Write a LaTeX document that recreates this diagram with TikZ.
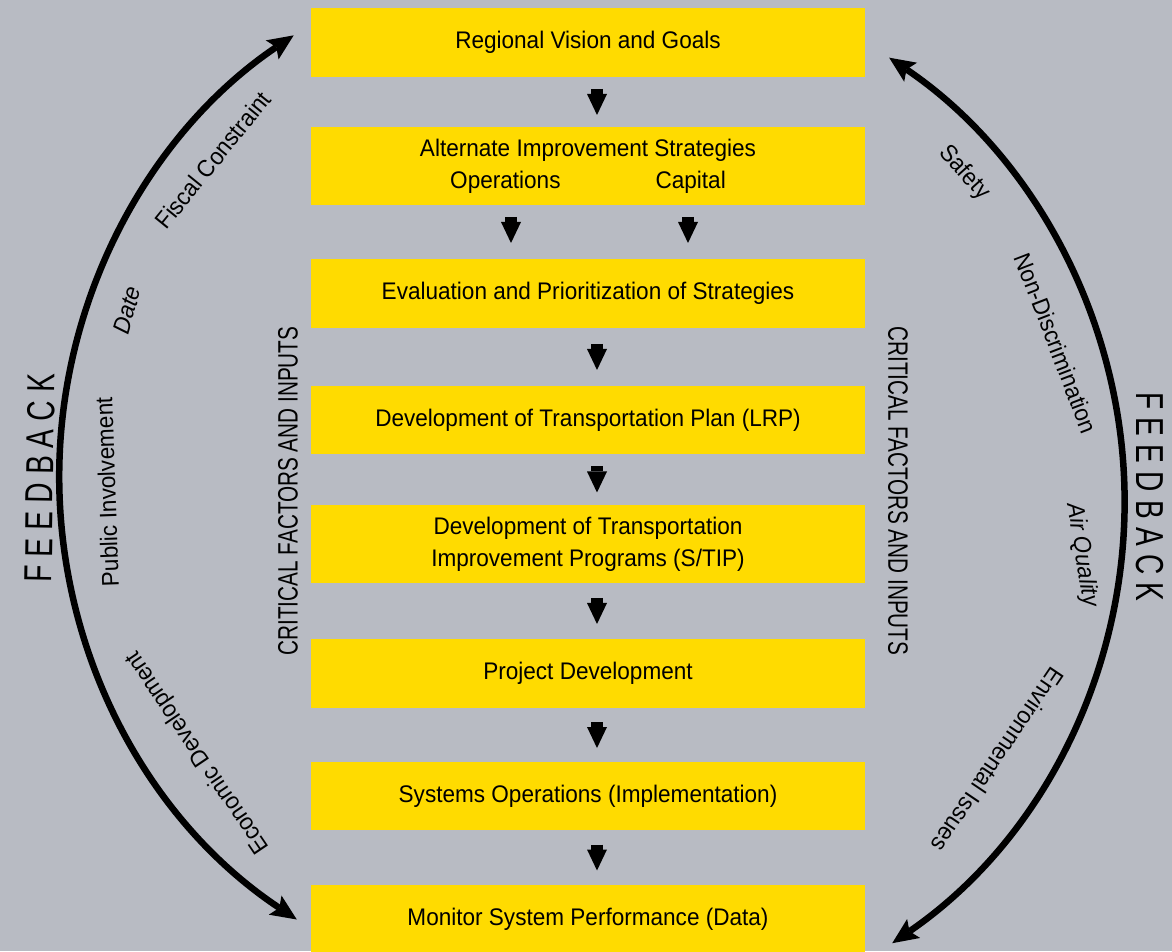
\documentclass[tikz,border=0pt]{standalone}
\usepackage{fontspec}
\setmainfont{Liberation Sans}[FakeStretch=0.94]
\newfontfamily\capsfont{Liberation Sans}[FakeStretch=0.74]
\newfontfamily\fbfont{Liberation Sans}[FakeStretch=0.72,LetterSpace=21]
\usetikzlibrary{arrows.meta,calc}
\definecolor{panel}{HTML}{B8BBC3}
\definecolor{stagefill}{HTML}{FFDB00}

\begin{document}
\begin{tikzpicture}[x=1pt,y=1pt,
  stage/.style={fill=stagefill,minimum width=554pt,minimum height=69pt,inner sep=0pt,align=center,
    font=\fontsize{24}{32}\selectfont},
  factor/.style={font=\fontsize{24}{28}\selectfont,inner sep=0pt},
  crit/.style={font=\capsfont\fontsize{28}{30}\selectfont,inner sep=0pt},
  fb/.style={font=\fbfont\fontsize{39}{40}\selectfont,inner sep=0pt},
  dn/.style={line width=12pt,-{Triangle[length=21pt,width=20pt,line width=0pt]}},
  fbarc/.style={line width=6.5pt,
    {Stealth[length=26pt,width=23pt,inset=5pt,line width=0pt]}-{Stealth[length=26pt,width=23pt,inset=5pt,line width=0pt]}}]

\useasboundingbox (0,0) rectangle (1172,951);
\fill[panel] (0,0) rectangle (1172,951);

%% the planning steps
\node[stage] (vision) at (588,908.5) {Regional Vision and Goals};
\node[stage,minimum height=78pt] (alt) at (588,785) {Alternate Improvement Strategies\\Operations\hspace{95pt}Capital};
\node[stage] (evalp) at (588,657.5) {Evaluation and Prioritization of Strategies};
\node[stage,minimum height=68pt] (lrp) at (588,531) {Development of Transportation Plan (LRP)};
\node[stage,minimum height=78pt] (stip) at (588,407) {Development of Transportation\\Improvement Programs (S/TIP)};
\node[stage] (projdev) at (588,277.5) {Project Development};
\node[stage,minimum height=68pt] (sysops) at (588,155) {Systems Operations (Implementation)};
\node[stage] (monitor) at (588,31.5) {Monitor System Performance (Data)};

%% arrows between the steps
\foreach \a/\b in {vision/alt,evalp/lrp,lrp/stip,stip/projdev,projdev/sysops,sysops/monitor}
  \draw[dn] ($(\a.south)!.5!(\b.north)+(9,13)$) -- ++(0,-26);
\draw[dn] ($(alt.south)!.5!(evalp.north)+(-77,15)$) -- ++(0,-26);
\draw[dn] ($(alt.south)!.5!(evalp.north)+(100,15)$) -- ++(0,-26);

%% side headings
\node[crit,rotate=90] (cfileft) at (288,460) {CRITICAL FACTORS AND INPUTS};
\node[crit,rotate=-90] (cfiright) at (898,460) {CRITICAL FACTORS AND INPUTS};

%% feedback loops
\draw[fbarc] ([xshift=-14pt]monitor.west) arc[start angle=236.4,end angle=124,radius=532pt];
\draw[fbarc] ([shift={(27pt,11pt)}]monitor.south east) arc[start angle=-55.5,end angle=55.9,radius=536pt];
\node[fb,rotate=89] (fbleft) at (40,473) {FEEDBACK};
\node[fb,rotate=-90] (fbright) at (1150,454) {FEEDBACK};

%% factors along the loops
\node[factor,rotate=51] (fiscal) at (213,791) {Fiscal Constraint};
\node[factor,rotate=74] (date) at (127,641) {\itshape Date};
\node[factor,rotate=92] (public) at (107,459) {Public Involvement};
\node[factor,rotate=124] (econ) at (198,199) {Economic Development};
\node[factor,rotate=-48] (safety) at (964,778) {Safety};
\node[factor,rotate=-69] (nondisc) at (1056,608) {Non-Discrimination};
\node[factor,rotate=-81] (air) at (1082,396) {\itshape Air Quality};
\node[factor,rotate=-124] (env) at (998,191) {Environmental Issues};
\end{tikzpicture}
\end{document}
